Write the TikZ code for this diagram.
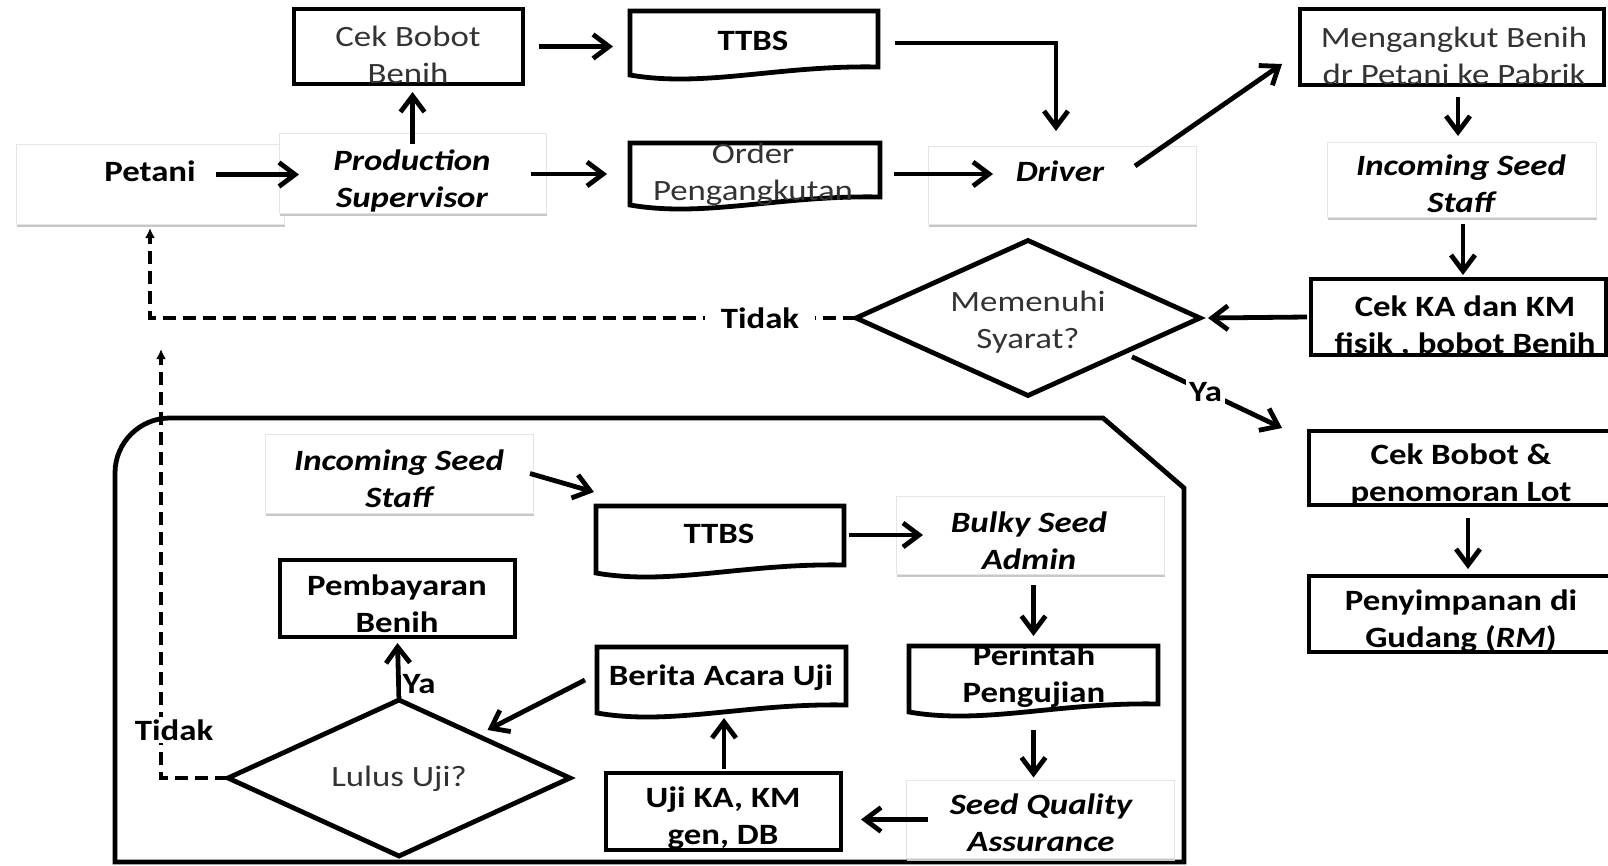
\documentclass[tikz,border=0pt]{standalone}
\usepackage{fontspec}
\setmainfont{Carlito}[FakeStretch=1.18]
\usetikzlibrary{arrows.meta,shapes.geometric,calc,shadows}
\newcommand\fs{\fontsize{29.5}{37}\selectfont}
\newcommand\docbody[1]{\draw[boxline] (#1.north west) -- (#1.north east) -- ($(#1.south east)+(0,-8)$) .. controls ($(#1.south west)!0.6!(#1.south east)+(0,-10)$) and ($(#1.south west)!0.3!(#1.south east)+(0,13)$) .. (#1.south west) -- cycle;}
\tikzset{
 boxline/.style={line width=4.8pt, line join=miter},
 proc/.style={draw, line width=4.8pt, inner sep=0pt, outer sep=0pt},
 docnode/.style={inner sep=0pt, outer sep=0pt},
 role/.style={draw=black!10, line width=1pt, fill=white, inner sep=0pt, outer sep=0pt,
   general shadow={fill=black!22, shadow xshift=0.5pt, shadow yshift=-2.5pt}},
 dec/.style={diamond, draw, line width=4.8pt, inner sep=0pt, outer sep=0pt},
 txt/.style={align=center, inner sep=0pt, font=\fs},
 rtxt/.style={txt, text=black!80},
 btxt/.style={txt, font=\fs\bfseries},
 bitxt/.style={txt, font=\fs\bfseries\itshape},
 lbl/.style={fill=white, inner sep=3pt, font=\fs\bfseries},
 arr/.style={line width=4.8pt, -{Straight Barb[length=16pt,width=24pt]}},
 darr/.style={line width=3.6pt, dash pattern=on 13pt off 7pt, -{Latex[length=10pt,width=10pt]}},
}
\begin{document}
\begin{tikzpicture}[x=1pt,y=-1pt]
\useasboundingbox (0,0) rectangle (1608,865);
% container
\draw[boxline] (115,862) {[rounded corners=55pt] -- (115,418) -- (600,418)} -- (1103,418) -- (1184,488) -- (1184,862) -- cycle;
% boxes
\node[proc, minimum width=229pt, minimum height=75pt] (cekbobot) at (408.5,46.5) {};
\node[docnode, minimum width=248pt, minimum height=64pt] (ttbs1) at (754,43) {};
\docbody{ttbs1}
\node[proc, minimum width=304pt, minimum height=76pt] (angkut) at (1452,47) {};
\node[role, minimum width=268pt, minimum height=80pt] (petani) at (150,184) {};
\node[role, minimum width=267pt, minimum height=80pt] (ps) at (412.5,173) {};
\node[docnode, minimum width=250pt, minimum height=62pt] (order) at (755,174) {};
\docbody{order}
\node[role, minimum width=268pt, minimum height=78pt] (driver) at (1062,185) {};
\node[role, minimum width=269pt, minimum height=75pt] (iss1) at (1461.5,179.5) {};
\node[proc, minimum width=295pt, minimum height=76pt] (cekka) at (1458.5,317) {};
\node[dec, minimum width=344pt, minimum height=155pt] (memenuhi) at (1028,318) {};
\node[proc, minimum width=303pt, minimum height=74pt] (cekbl) at (1460.5,468) {};
\node[proc, minimum width=303pt, minimum height=76pt] (simpan) at (1460.5,614) {};
\node[role, minimum width=268pt, minimum height=79pt] (iss2) at (399,473.5) {};
\node[docnode, minimum width=248pt, minimum height=67pt] (ttbs2) at (720,539.5) {};
\docbody{ttbs2}
\node[role, minimum width=268pt, minimum height=78pt] (bulky) at (1030,535) {};
\node[proc, minimum width=235pt, minimum height=77pt] (bayar) at (397.5,598.5) {};
\node[docnode, minimum width=249pt, minimum height=66pt] (perintah) at (1033.5,679) {};
\docbody{perintah}
\node[docnode, minimum width=249pt, minimum height=66pt] (berita) at (721.5,680) {};
\docbody{berita}
\node[dec, minimum width=342pt, minimum height=156pt] (lulus) at (399,778) {};
\node[proc, minimum width=235pt, minimum height=77pt] (uji) at (723.5,811.5) {};
\node[role, minimum width=268pt, minimum height=78pt] (sqa) at (1040,819.5) {};
% texts
\node[rtxt] (tcek) at (408,58) {\strut Cek Bobot\\\strut Benih};
\node[btxt] (tttbs1) at (753,43) {\strut TTBS};
\node[rtxt] (tangkut) at (1454,58.5) {\strut Mengangkut Benih\\\strut dr Petani ke Pabrik};
\node[btxt] (tpetani) at (150,174.5) {\strut Petani};
\node[bitxt] (tps) at (412,181.5) {\strut Production\\\strut Supervisor};
\node[rtxt] (torder) at (753,175) {\strut Order\\\strut Pengangkutan};
\node[bitxt] (tdriver) at (1060,174.5) {\strut Driver};
\node[bitxt] (tiss1) at (1461,187) {\strut Incoming Seed\\\strut Staff};
\node[btxt] (tcekka) at (1465,327.5) {\strut Cek KA dan KM\\\strut fisik , bobot Benih};
\node[rtxt] (tmem) at (1028,322.5) {\strut Memenuhi\\\strut Syarat?};
\node[btxt] (tcekbl) at (1461,476) {\strut Cek Bobot \&\\\strut penomoran Lot};
\node[btxt] (tsimpan) at (1461,622) {\strut Penyimpanan di\\\strut Gudang (\textit{RM})};
\node[bitxt] (tiss2) at (399,481.5) {\strut Incoming Seed\\\strut Staff};
\node[btxt] (tttbs2) at (719,536.5) {\strut TTBS};
\node[bitxt] (tbulky) at (1029,543.5) {\strut Bulky Seed\\\strut Admin};
\node[btxt] (tbayar) at (397,607) {\strut Pembayaran\\\strut Benih};
\node[btxt] (tperintah) at (1034,676.5) {\strut Perintah\\\strut Pengujian};
\node[btxt] (tberita) at (721,678) {\strut Berita Acara Uji};
\node[rtxt] (tlulus) at (399,779.5) {\strut Lulus Uji?};
\node[btxt] (tuji) at (723,819) {\strut Uji KA, KM\\\strut gen, DB};
\node[bitxt] (tsqa) at (1041,825.5) {\strut Seed Quality\\\strut Assurance};
% connectors
\draw[arr] ([xshift=20pt]tpetani.east) -- ([xshift=20pt]tpetani.east -| ps.west);
\draw[arr] ([yshift=-11pt]ps.north) -- ([yshift=-8pt]ps.north |- cekbobot.south);
\draw[arr] ([xshift=16pt]cekbobot.east) -- ([xshift=-17pt]cekbobot.east -| ttbs1.west);
\draw[arr] ([xshift=-15pt]ps.east |- order.west) -- ([xshift=-23pt]order.west);
\draw[arr] ([xshift=17pt]ttbs1.east) -| ([xshift=-6pt,yshift=15pt]driver.north);
\draw[arr] ([xshift=14pt]order.east) -- ([xshift=65pt]order.east -| driver.west);
\draw[arr] ([xshift=-61pt,yshift=19pt]driver.east) -- ([xshift=-18pt,yshift=-17pt]angkut.west);
\draw[arr] ([xshift=6pt,yshift=-12pt]angkut.south) -- ([xshift=6pt,yshift=6pt]angkut.south |- iss1.north);
\draw[arr] ([xshift=1.5pt,yshift=-7pt]iss1.south) -- ([xshift=1.5pt,yshift=4pt]iss1.south |- cekka.north);
\draw[arr] ([xshift=-4pt]cekka.west) -- ([xshift=8pt]memenuhi.east);
\draw[arr] ([xshift=18pt]memenuhi.south east) -- node[lbl,pos=0.49] (ya1) {Ya} ([xshift=-27pt,yshift=40pt]cekbl.west);
\draw[darr] (memenuhi.west) -- node[lbl,inner xsep=16pt,pos=0.136] (tidak1) {Tidak} (memenuhi.west -| petani.south) -- ([yshift=-4pt]petani.south);
\draw[arr] ([xshift=7.5pt,yshift=-13pt]cekbl.south) -- ([xshift=7.5pt,yshift=7pt]cekbl.south |- simpan.north);
\draw[arr] ([xshift=-3pt]iss2.east) -- ([xshift=-2pt,yshift=14pt]ttbs2.north west);
\draw[arr] ([xshift=5pt]ttbs2.east |- bulky.west) -- ([xshift=27pt]bulky.west);
\draw[arr] ([yshift=-11pt]perintah.north |- bulky.south) -- ([yshift=10pt]perintah.north);
\draw[arr] ([yshift=-18pt]perintah.south) -- ([yshift=3pt]perintah.south |- sqa.north);
\draw[arr] ([xshift=22pt]sqa.west) -- ([xshift=20pt]sqa.west -| uji.east);
\draw[arr] ([xshift=0.5pt,yshift=4pt]uji.north) -- ([xshift=0.5pt,yshift=-5pt]uji.north |- berita.south);
\draw[arr] ([xshift=-12pt]berita.west) -- ([xshift=3pt,yshift=9pt]lulus.north east);
\draw[arr] (lulus.north) -- ([yshift=-6pt]bayar.south);
\node[lbl, inner sep=2pt] (ya2) at (419,684) {Ya};
\coordinate (tidakend) at (161,349);
\draw[darr] (lulus.west) -| (tidakend);
\node[lbl, inner xsep=12pt] (tidak2) at (174,730) {Tidak};
\end{tikzpicture}
\end{document}
